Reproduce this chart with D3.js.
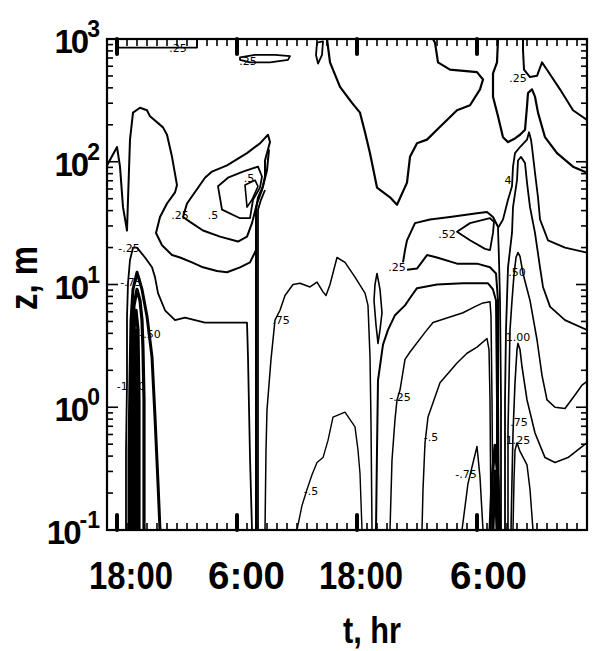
<!DOCTYPE html>
<html>
<head>
<meta charset="utf-8">
<script src="https://cdn.jsdelivr.net/npm/d3@7"></script>
<style>
body{margin:0;background:#fff;}
svg{display:block;}
.axlab{font-family:"Liberation Sans",Arial,sans-serif;font-weight:bold;fill:#000;}
.clab{font-family:"DejaVu Sans",sans-serif;font-size:11px;fill:#000;}
</style>
</head>
<body>
<svg id="chart" width="593" height="651"></svg>
<script>
// time axis: hours after 17:00 of day 1
var tDomain = [0, 48];
var majorHours = [1, 13, 25, 37];
var timeLabels = ["18:00", "6:00", "18:00", "6:00"];
var timeLabelPos = [2.4, 13.95, 25.4, 38.15];
var decades = [-1, 0, 1, 2, 3];
var decadeLabels = ["-1", "0", "1", "2", "3"];

// contour polylines, [t hours, log10 z]
var cTopBox = [[1.1,3.0],[1.1,2.93],[9.0,2.93],[9.0,3.0]];
var cTopLoop = [[13.3,2.85],[14.8,2.87],[16.8,2.87],[18.3,2.86],[18.1,2.83],[16.3,2.81],[14.3,2.81],[13.3,2.83]];
var cSmallLoop = [[21.0,2.97],[21.6,2.98],[21.5,2.87],[21.1,2.80],[20.9,2.87]];
var cC = [[22.0,3.0],[22.3,2.81],[23.3,2.61],[24.5,2.48],[25.3,2.40],[25.8,2.24],[26.3,2.07],[27.0,1.79],[28.3,1.71],[29.0,1.65],[30.0,1.83],[30.3,2.04],[31.0,2.15],[32.0,2.18],[33.0,2.26],[35.0,2.42],[36.3,2.46],[37.3,2.59],[37.6,2.67],[37.0,2.73],[34.3,2.75],[33.1,2.81],[32.8,2.97],[32.6,3.0]];
var cD1 = [[41.6,3.0],[41.6,2.91],[41.7,2.75],[42.3,2.69],[43.0,2.70],[43.5,2.81],[44.0,2.75],[45.3,2.59],[46.6,2.42],[48.0,2.34]];
var cD2 = [[39.1,3.0],[39.0,2.81],[38.6,2.72],[38.6,2.53],[39.1,2.37],[39.6,2.20],[40.1,2.16],[40.8,2.19],[41.3,2.22],[41.8,2.26],[42.0,2.45],[42.1,2.56],[42.5,2.59],[42.8,2.53],[43.1,2.40],[43.8,2.20],[45.0,2.07],[46.6,1.96],[48.0,1.91]];
var cR2 = [[39.4,-1.0],[39.4,0.06],[39.3,0.87],[39.2,1.20],[39.1,1.46],[39.6,1.53],[40.1,1.69],[40.5,1.80],[40.6,1.96],[40.8,2.07],[41.3,2.12],[42.0,2.18],[42.2,2.24],[42.4,2.18],[42.5,2.12],[42.8,1.91],[43.1,1.71],[43.3,1.53],[44.1,1.36],[45.8,1.30],[48.0,1.26]];
var cR3 = [[39.8,-1.0],[39.8,0.06],[39.9,0.63],[40.1,1.14],[40.5,1.42],[40.6,1.63],[41.0,1.85],[41.1,2.01],[41.4,2.04],[41.8,1.99],[42.0,1.83],[42.3,1.63],[42.8,1.42],[43.3,1.14],[43.6,0.98],[44.3,0.82],[45.8,0.71],[48.0,0.63]];
var cR4 = [[40.1,-1.0],[40.1,-0.19],[40.2,0.22],[40.3,0.63],[40.5,0.87],[40.7,1.08],[40.9,1.22],[41.1,1.26],[41.3,1.23],[41.6,1.09],[42.3,0.87],[43.0,0.55],[43.5,0.26],[44.0,0.06],[44.8,0.0],[45.8,-0.01],[46.8,0.10],[47.5,0.18],[48.0,0.21]];
var cR5 = [[40.4,-1.0],[40.5,-0.59],[40.6,-0.21],[40.8,0.20],[41.0,0.47],[41.1,0.52],[41.3,0.47],[41.5,0.33],[42.0,0.06],[42.8,-0.21],[43.8,-0.41],[44.8,-0.45],[46.1,-0.41],[47.5,-0.32],[48.0,-0.29]];
var cR6 = [[40.6,-1.0],[40.7,-0.59],[40.8,-0.35],[41.0,-0.29],[41.3,-0.36],[42.0,-0.47],[42.3,-0.67],[42.6,-1.0]];
var cRB1 = [[38.3,-1.0],[38.5,-0.59],[38.8,-0.31],[39.1,-0.59],[39.3,-1.0]];
var cRB2 = [[38.6,-1.0],[38.8,-0.52],[39.0,-1.0]];
var cLoop25top = [[29.6,1.18],[29.8,1.28],[30.0,1.36],[30.8,1.50],[32.3,1.53],[34.3,1.55],[37.0,1.58],[38.0,1.59],[38.6,1.55],[39.1,1.47]];
var cLoop25bot = [[30.0,1.12],[31.0,1.13],[32.0,1.24],[33.0,1.22],[35.0,1.17],[37.0,1.17],[38.3,1.14],[38.9,1.09],[39.1,0.87],[39.1,0.06],[39.2,-1.0]];
var cLoop52 = [[35.0,1.43],[36.3,1.50],[38.3,1.54],[38.7,1.51],[38.6,1.42],[38.3,1.28],[37.8,1.29],[36.3,1.36]];
var cP = [[26.9,-1.0],[27.0,-0.35],[27.1,0.22],[27.6,0.51],[28.1,0.63],[28.8,0.75],[29.8,0.83],[30.3,0.89],[31.0,0.97],[33.0,1.0],[35.6,1.01],[38.1,1.01],[38.6,0.96],[38.9,0.87],[39.0,0.06],[39.0,-1.0]];
var cQ = [[28.3,-1.0],[28.5,-0.43],[28.8,-0.10],[29.0,0.06],[29.3,0.14],[29.8,0.39],[30.3,0.45],[31.8,0.61],[32.6,0.69],[35.6,0.77],[36.8,0.82],[37.6,0.85],[38.3,0.86],[38.4,0.74],[38.5,0.06],[38.6,-1.0]];
var cR = [[31.5,-1.0],[31.6,-0.67],[31.8,-0.29],[32.1,-0.08],[33.3,0.20],[35.0,0.36],[36.0,0.44],[37.0,0.49],[38.0,0.56],[38.2,0.47],[38.3,0.06],[38.4,-1.0]];
var cS = [[35.5,-1.0],[36.1,-0.62],[37.0,-0.32],[37.3,-0.57],[37.6,-1.0]];
var cSpindle = [[27.0,1.09],[27.3,0.96],[27.5,0.77],[27.3,0.63],[27.1,0.52],[26.9,0.67],[26.7,0.87],[26.8,1.0]];
var cM1 = [[15.8,-1.0],[15.9,-0.35],[16.0,-0.02],[16.4,0.39],[16.8,0.71],[17.3,0.79],[17.8,0.91],[18.6,1.0],[19.3,1.01],[20.3,0.98],[21.0,1.02],[21.6,0.94],[21.9,0.91],[22.3,1.0],[23.0,1.22],[23.8,1.18],[24.8,1.06],[25.8,0.93],[26.1,0.83],[26.3,0.41],[26.4,-0.13],[26.5,-1.0]];
var cM2 = [[19.0,-1.0],[19.5,-0.80],[20.0,-0.67],[20.5,-0.55],[21.0,-0.45],[21.6,-0.41],[22.1,-0.27],[22.6,-0.08],[23.8,-0.04],[24.8,-0.16],[25.1,-0.35],[25.3,-0.54],[25.5,-1.0]];
var cV1 = [[14.9,-1.0],[14.9,1.61],[15.1,1.71],[15.6,1.80],[16.0,1.93],[16.2,2.10]];
var cV2 = [[15.1,-1.0],[15.1,1.61],[15.4,1.69],[15.8,1.77]];
var cLoopA = [[7.6,1.55],[8.0,1.66],[9.8,1.87],[10.5,1.92],[12.0,1.97],[14.0,2.07],[15.3,2.15],[16.1,2.22],[16.3,2.16],[15.8,2.01],[15.8,1.88],[15.5,1.77],[15.0,1.66],[14.5,1.50],[14.0,1.39],[13.1,1.35],[11.3,1.39],[9.6,1.44],[8.3,1.51]];
var cLoopB = [[11.5,1.61],[11.1,1.80],[12.1,1.87],[13.6,1.92],[15.1,1.96],[15.5,1.88],[15.3,1.79],[14.6,1.69],[14.3,1.54],[13.3,1.54]];
var cLoopC = [[13.8,1.81],[14.0,1.63],[14.5,1.69],[15.1,1.80],[14.8,1.85]];
var cS1 = [[0.0,1.97],[1.0,2.12],[1.3,1.96],[1.6,1.63],[2.0,1.44],[2.1,1.69],[2.3,2.18],[2.6,2.40],[3.3,2.44],[4.0,2.42],[4.3,2.37],[5.6,2.28],[6.0,2.22],[6.5,2.04],[7.0,1.81],[6.8,1.75],[6.0,1.66],[5.3,1.55],[4.9,1.42],[5.5,1.32],[6.5,1.24],[7.3,1.22],[8.5,1.18],[9.6,1.14],[11.0,1.11],[12.0,1.10],[13.3,1.14],[14.3,1.18],[14.9,1.28]];
var cSP1 = [[1.9,-1.0],[1.9,-0.35],[2.0,0.20],[2.0,0.74],[2.1,1.01],[2.3,1.20],[2.6,1.30],[3.0,1.30],[3.8,1.22],[4.5,1.14],[4.8,1.06],[5.1,0.93],[5.8,0.79],[6.8,0.71],[7.8,0.73],[9.8,0.69],[12.6,0.69],[14.0,0.69],[14.1,0.41],[14.3,-0.41],[14.5,-1.0]];
var cSP2 = [[2.2,-1.0],[2.2,-0.35],[2.3,0.22],[2.4,0.71],[2.6,0.96],[3.0,1.10],[3.5,0.96],[4.0,0.74],[4.5,0.41],[4.8,-0.08],[5.1,-0.62],[5.3,-1.0]];
var cSP3 = [[2.4,-1.0],[2.4,-0.10],[2.5,0.55],[2.7,0.83],[3.0,0.96],[3.3,0.87],[3.5,0.71],[3.6,0.47],[3.7,0.06],[3.7,-1.0]];
var cSP4 = [[2.6,-1.0],[2.6,0.06],[2.7,0.63],[2.9,0.79],[3.1,0.63],[3.2,0.06],[3.2,-1.0]];
var cSP5 = [[2.7,-1.0],[2.8,0.47],[2.9,0.63],[3.0,0.47],[3.0,-1.0]];

// contour value labels: text, t, log10 z
var labelText = [".25", ".25", ".25", "4", ".52", ".25", ".50", "1.00", ".75", "1.25", "-.75", "-.5", "-.25", "-.5", ".75", "-.50", "-.75", "-.25", "-1.00", ".25", ".5", ".5"];
var labelT = [7.1, 14.1, 41.1, 40.1, 34.0, 29.0, 41.0, 41.1, 41.2, 41.1, 35.9, 32.4, 29.3, 20.4, 17.4, 4.3, 2.4, 2.2, 2.4, 7.3, 10.6, 14.2];
var labelLz = [2.93, 2.82, 2.68, 1.85, 1.41, 1.14, 1.10, 0.57, -0.12, -0.27, -0.54, -0.24, 0.08, -0.68, 0.71, 0.60, 1.02, 1.30, 0.17, 1.57, 1.57, 1.87];

var contours = [
  {d:cTopBox, closed:false, w:1.8}, {d:cTopLoop, closed:true, w:1.8},
  {d:cSmallLoop, closed:true, w:1.8}, {d:cC, closed:false, w:2.2},
  {d:cD1, closed:false, w:2.0}, {d:cD2, closed:false, w:2.2},
  {d:cR2, closed:false, w:1.8}, {d:cR3, closed:false, w:1.8},
  {d:cR4, closed:false, w:1.6}, {d:cR5, closed:false, w:1.6},
  {d:cR6, closed:false, w:1.5}, {d:cRB1, closed:false, w:3.0},
  {d:cRB2, closed:false, w:3.0},
  {d:cLoop25top, closed:false, w:2.0}, {d:cLoop25bot, closed:false, w:2.0},
  {d:cLoop52, closed:true, w:1.8}, {d:cP, closed:false, w:2.0},
  {d:cQ, closed:false, w:1.5}, {d:cR, closed:false, w:1.5},
  {d:cS, closed:false, w:1.5}, {d:cSpindle, closed:true, w:1.6},
  {d:cM1, closed:false, w:1.5}, {d:cM2, closed:false, w:1.4},
  {d:cV1, closed:false, w:2.0}, {d:cV2, closed:false, w:1.8},
  {d:cLoopA, closed:true, w:2.0}, {d:cLoopB, closed:true, w:1.8},
  {d:cLoopC, closed:true, w:1.6}, {d:cS1, closed:false, w:2.0},
  {d:cSP1, closed:false, w:1.8}, {d:cSP2, closed:false, w:3.0},
  {d:cSP3, closed:false, w:3.2}, {d:cSP4, closed:false, w:3.2},
  {d:cSP5, closed:false, w:3.2}
];

var svg = d3.select("#chart");
var pLeft = 107, pRight = 587, pTop = 39, pBottom = 530;

var x = d3.scaleLinear().domain(tDomain).range([pLeft, pRight]);
var y = d3.scaleLog().domain([0.1, 1000]).range([pBottom, pTop]);

svg.append("clipPath").attr("id", "plotclip")
  .append("rect").attr("x", pLeft).attr("y", pTop)
  .attr("width", pRight - pLeft).attr("height", pBottom - pTop);

var plot = svg.append("g").attr("clip-path", "url(#plotclip)");

var lineOpen = d3.line()
  .x(function(d){ return x(d[0]); })
  .y(function(d){ return y(Math.pow(10, d[1])); });
var lineClosed = d3.line()
  .x(function(d){ return x(d[0]); })
  .y(function(d){ return y(Math.pow(10, d[1])); })
  .curve(d3.curveLinearClosed);

plot.selectAll("path.contour")
  .data(contours)
  .enter().append("path")
  .attr("class", "contour")
  .attr("d", function(c){ return c.closed ? lineClosed(c.d) : lineOpen(c.d); })
  .attr("fill", "none")
  .attr("stroke", "#000")
  .attr("stroke-width", function(c){ return c.w; })
  .attr("stroke-linejoin", "round");

// contour value labels
plot.selectAll("text.clab")
  .data(labelText)
  .enter().append("text")
  .attr("class", "clab")
  .attr("x", function(d, i){ return x(labelT[i]); })
  .attr("y", function(d, i){ return y(Math.pow(10, labelLz[i])) + 4; })
  .attr("text-anchor", "middle")
  .text(function(d){ return d; });

// frame
svg.append("rect")
  .attr("x", pLeft).attr("y", pTop)
  .attr("width", pRight - pLeft).attr("height", pBottom - pTop)
  .attr("fill", "none").attr("stroke", "#000").attr("stroke-width", 2.2);

// time ticks, top and bottom, every hour
var hours = d3.range(tDomain[0] + 1, tDomain[1]);
var axes = svg.append("g");
hours.forEach(function(h) {
  var major = majorHours.indexOf(h) >= 0;
  var len = major ? 15 : 7;
  var w = major ? 4 : 1.6;
  axes.append("line").attr("x1", x(h)).attr("x2", x(h))
    .attr("y1", pBottom).attr("y2", pBottom - len)
    .attr("stroke", "#000").attr("stroke-width", w).attr("stroke-linecap", major ? "round" : "butt");
  axes.append("line").attr("x1", x(h)).attr("x2", x(h))
    .attr("y1", pTop).attr("y2", pTop + len)
    .attr("stroke", "#000").attr("stroke-width", w).attr("stroke-linecap", major ? "round" : "butt");
});

// log ticks, left and right
decades.slice(0, -1).forEach(function(k) {
  for (var m = 1; m < 10; m++) {
    var v = m * Math.pow(10, k);
    var yy = y(v);
    var len = m === 1 ? 11 : 6;
    axes.append("line").attr("x1", pLeft).attr("x2", pLeft + len)
      .attr("y1", yy).attr("y2", yy).attr("stroke", "#000").attr("stroke-width", 1.6);
    axes.append("line").attr("x1", pRight).attr("x2", pRight - len)
      .attr("y1", yy).attr("y2", yy).attr("stroke", "#000").attr("stroke-width", 1.6);
  }
});

// x tick labels
svg.selectAll("text.tlab")
  .data(timeLabels)
  .enter().append("text")
  .attr("class", "axlab tlab")
  .attr("x", function(d, i){ return x(timeLabelPos[i]); })
  .attr("y", 589)
  .attr("text-anchor", "middle")
  .attr("font-size", 38)
  .attr("textLength", function(d){ return d.length > 4 ? 84 : 77; })
  .attr("lengthAdjust", "spacingAndGlyphs")
  .text(function(d){ return d; });

// y tick labels 10^k
decades.forEach(function(k, i) {
  var t = svg.append("text")
    .attr("class", "axlab")
    .attr("x", 100)
    .attr("y", y(Math.pow(10, k)) + 14)
    .attr("text-anchor", "end")
    .attr("font-size", 33)
    .attr("letter-spacing", -2);
  t.append("tspan").text("10");
  t.append("tspan").attr("font-size", 23).attr("dy", -16).attr("letter-spacing", 0).text(decadeLabels[i]);
});

// axis titles
svg.append("text")
  .attr("class", "axlab")
  .attr("x", 372).attr("y", 643)
  .attr("text-anchor", "middle")
  .attr("font-size", 36)
  .attr("textLength", 58).attr("lengthAdjust", "spacingAndGlyphs")
  .text("t, hr");

svg.append("text")
  .attr("class", "axlab")
  .attr("transform", "translate(37,278) rotate(-90)")
  .attr("text-anchor", "middle")
  .attr("font-size", 38)
  .attr("textLength", 64).attr("lengthAdjust", "spacingAndGlyphs")
  .text("z, m");
</script>
</body>
</html>
